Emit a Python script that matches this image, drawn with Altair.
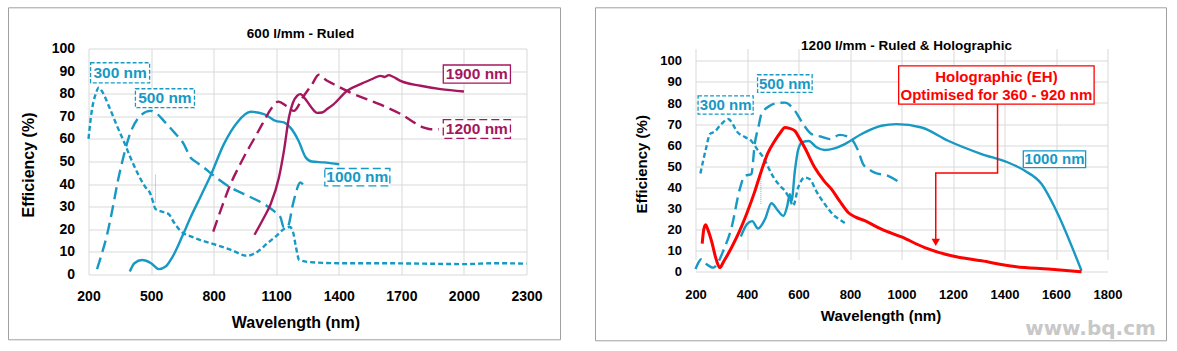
import altair as alt
import pandas as pd

CYAN = "#1799c4"
MAGENTA = "#a4175f"
RED = "#ff0000"
GRID = "#d9d9d9"
FONT = "Liberation Sans"

# ---------------- Left panel: 600 l/mm - Ruled ----------------
L300_wl = [200, 215, 235, 249, 265, 300, 340, 369, 400, 440, 470, 497, 510, 521, 545, 585, 610, 641, 700, 801, 880, 961, 1000, 1060, 1100, 1136, 1165, 1180, 1195, 1210, 1260, 1400, 1600, 1800, 2000, 2150, 2300]
L300_eff = [60, 72, 80, 82.7, 81, 74, 65, 59, 52, 44, 39, 35.6, 32, 29, 28, 26.7, 23, 19.3, 16.5, 13.4, 11, 8.3, 9.5, 14, 17, 20, 21, 19, 12, 6.5, 5.5, 5, 5, 4.8, 4.6, 5, 4.8]

L500_wl = [241, 260, 290, 313, 340, 362, 393, 441, 497, 530, 561, 610, 657, 689, 720, 753, 801, 881, 960, 1041, 1090, 1121, 1135, 1153, 1184, 1216, 1240]
L500_eff = [2.4, 8, 18, 28, 41, 50, 60.6, 69.5, 72.4, 71, 68, 63, 57.7, 51.8, 49.5, 47.3, 43.7, 38.5, 35, 31.2, 28, 25.2, 21, 20.8, 32.6, 40.7, 37.8]

L1000_wl = [398, 420, 457, 500, 537, 570, 601, 650, 689, 740, 785, 849, 913, 977, 1041, 1097, 1137, 1168, 1208, 1240, 1270, 1328, 1402]
L1000_eff = [1.3, 5, 6.4, 5, 2.4, 3.5, 7.5, 17, 25.2, 35, 43.7, 57.7, 67.3, 72, 71, 68, 67.3, 65, 59, 52, 50, 49.6, 48.8]

L1200_wl = [798, 840, 881, 920, 961, 1000, 1033, 1081, 1110, 1150, 1184, 1232, 1272, 1304, 1340, 1376, 1456, 1552, 1632, 1712, 1760, 1808, 1840, 1880]
L1200_eff = [19, 30, 40, 47.5, 54.7, 61, 66.5, 74, 76.5, 74.5, 72.4, 79, 84.2, 88.4, 86, 84.2, 80.5, 76.9, 73.9, 70.2, 67.3, 65, 64.3, 64.3]

L1900_wl = [996, 1040, 1073, 1113, 1137, 1161, 1180, 1200, 1216, 1240, 1268, 1296, 1320, 1344, 1376, 1440, 1504, 1560, 1600, 1620, 1640, 1660, 1696, 1792, 1888, 2000]
L1900_eff = [17.6, 25, 31.1, 42.9, 54.7, 69.5, 76, 79, 79.8, 77.6, 74, 71.5, 71.7, 73.2, 75.4, 81.3, 84.2, 86.5, 87.9, 87.4, 88.2, 87.5, 85.7, 83.5, 82, 81]

L_xticks = [200, 500, 800, 1100, 1400, 1700, 2000, 2300]
L_yticks = [0, 10, 20, 30, 40, 50, 60, 70, 80, 90, 100]

# label boxes: text, wl-left, wl-right, eff-bottom, eff-top, color, dash
L_labels = [
    ("300 nm", 210, 493, 84.8, 93.7, CYAN, [4, 2]),
    ("500 nm", 425, 708, 73.8, 82.2, CYAN, [4, 2]),
    ("1000 nm", 1333, 1645, 39.2, 46.9, CYAN, [8, 4]),
    ("1200 nm", 1901, 2223, 60.2, 68.5, MAGENTA, [8, 4]),
    ("1900 nm", 1901, 2223, 84.7, 92.7, MAGENTA, None),
]

# ---------------- Right panel: 1200 l/mm ----------------
R300_wl = [219, 240, 256, 275, 300, 327, 345, 359, 390, 417, 440, 463, 502, 530, 547, 566, 579, 599, 624, 644, 670, 702, 735, 767, 786]
R300_eff = [46.6, 58, 65.3, 66.5, 70, 72.4, 70, 66.8, 64, 62, 58, 54.2, 45, 40.5, 38.4, 34.5, 31.3, 40, 44.7, 43.9, 38, 32.1, 27, 24.2, 22.6]

R500_wl = [200, 212, 223, 243, 269, 290, 308, 340, 372, 391, 417, 430, 445, 456, 489, 520, 547, 586, 618, 650, 689, 722, 760, 799, 832, 851, 875, 896, 948, 993]
R500_eff = [1.3, 4.5, 6, 3.6, 2, 5, 10, 21, 39.2, 45.5, 46.3, 60.5, 69, 74.7, 78.7, 80, 80.2, 76.3, 70, 65.3, 64, 62.9, 64.9, 63.6, 57.3, 51, 48.5, 47, 45.5, 42.3]

R1000_wl = [376, 400, 420, 443, 470, 495, 520, 541, 556, 566, 573, 586, 599, 615, 640, 670, 702, 740, 780, 845, 922, 980, 1078, 1181, 1311, 1414, 1479, 1544, 1595, 1699]
R1000_eff = [16.7, 22.6, 24, 20.5, 25, 32.5, 29, 26.5, 31, 36.8, 33.6, 47.9, 58, 61.5, 62, 59, 57.7, 58.5, 60.5, 65.3, 69.2, 70, 68.4, 62.1, 55.8, 51.8, 47.9, 41.6, 30.5, 0.5]

RH_wl = [226, 232, 239, 248, 262, 280, 294, 310, 340, 370, 398, 430, 456, 480, 508, 530, 547, 565, 586, 605, 624, 663, 700, 728, 760, 793, 820, 857, 922, 1000, 1090, 1194, 1311, 1440, 1570, 1699]
RH_eff = [13.4, 20, 22.3, 20, 14.7, 6, 2, 5, 11.5, 19, 27.3, 38, 47.9, 56, 62.1, 66, 68.4, 68, 66.8, 63, 58.9, 49.4, 43, 39.2, 33.5, 28.1, 26, 24.2, 20.2, 16.5, 11.5, 7.6, 5.2, 2.5, 1.3, 0]

R_xticks = [200, 400, 600, 800, 1000, 1200, 1400, 1600, 1800]
R_yticks = [0, 10, 20, 30, 40, 50, 60, 70, 80, 90, 100]

R_labels = [
    ("300 nm", 210, 424, 74.7, 83.4, CYAN, [4, 2]),
    ("500 nm", 441, 653, 85.0, 93.4, CYAN, [4, 2]),
    ("1000 nm", 1473, 1715, 49.4, 57.3, CYAN, None),
]
holo_box = (989, 1748, 79.5, 97.6)
holo_text = ["Holographic (EH)", "Optimised for 360 - 920 nm"]
holo_text_eff = [92.4, 83.9]
leader_wl = [1373, 1373, 1133, 1133]
leader_eff = [79.5, 46.8, 46.8, 15.0]
arrow_tip = (1133, 14.0)


def axes(xticks, yticks, lab_fs, title_fs, xtx, xty, ytx, yty, xlp):
    common = dict(grid=True, gridColor=GRID, gridWidth=1, domain=False, ticks=False,
                  labelFont=FONT, labelFontWeight="bold", labelColor="black",
                  labelFontSize=lab_fs, titleFont=FONT, titleFontWeight="bold",
                  titleColor="black", titleFontSize=title_fs, format="d")
    xa = alt.Axis(values=xticks, labelPadding=xlp, title="Wavelength (nm)",
                  titleX=xtx, titleY=xty, titleAlign="center", titleBaseline="middle",
                  labelFlush=False, labelOverlap=False, **common)
    ya = alt.Axis(values=yticks, labelPadding=14, title="Efficiency (%)",
                  titleX=ytx, titleY=yty, titleAngle=270, titleAlign="center",
                  titleBaseline="middle", **common)
    return xa, ya


def build_panel(series, labels, xdom, xticks, yticks, w, h, yrange, title, title_pos,
                lab_fs, title_fs, xtx, xty, ytx, yty, xlp, lab_text_fs,
                border, thin_rule, extra=None):
    xs = alt.Scale(domain=xdom, nice=False, zero=False)
    ys = alt.Scale(domain=[0, 100], nice=False, range=yrange)
    xa, ya = axes(xticks, yticks, lab_fs, title_fs, xtx, xty, ytx, yty, xlp)

    def X(f="wl"):
        return alt.X(f"{f}:Q", scale=xs, axis=xa, title="Wavelength (nm)")

    def Y(f="eff"):
        return alt.Y(f"{f}:Q", scale=ys, axis=ya, title="Efficiency (%)")

    layers = []
    # outer border of the panel
    bx1, bx2, by1, by2 = border
    layers.append(
        alt.Chart(alt.Data(values=[{"a": 1}])).mark_rect(
            fillOpacity=0, stroke="#a0a0a0", strokeWidth=1
        ).encode(x=alt.value(bx1), x2=alt.value(bx2), y=alt.value(by1), y2=alt.value(by2))
    )
    # panel title
    layers.append(
        alt.Chart(alt.Data(values=[{"t": title}])).mark_text(
            font=FONT, fontSize=13.5, fontWeight="bold", color="black", align="center", baseline="middle"
        ).encode(x=alt.value(title_pos[0]), y=alt.value(title_pos[1]), text="t:N")
    )
    # layer carrying the axes
    layers.append(
        alt.Chart(pd.DataFrame({"wl": [xdom[0]], "eff": [0]})).mark_point(opacity=0).encode(x=X(), y=Y())
    )
    # thin dotted rule
    rw, re1, re2 = thin_rule
    layers.append(
        alt.Chart(pd.DataFrame({"wl": [rw], "eff": [re1], "eff2": [re2]})).mark_rule(
            color=CYAN, strokeWidth=0.7, strokeDash=[1, 1]
        ).encode(x=X(), y=Y(), y2="eff2:Q")
    )
    for wl, eff, color, dash, width in series:
        df = pd.DataFrame({"wl": wl, "eff": eff, "i": list(range(len(wl)))})
        kw = dict(color=color, strokeWidth=width, interpolate="monotone", strokeCap="butt")
        if dash:
            kw["strokeDash"] = dash
        layers.append(alt.Chart(df).mark_line(**kw).encode(x=X(), y=Y(), order="i:Q"))
    for text, w1, w2, e1, e2, color, dash in labels:
        df = pd.DataFrame({"wl": [w1], "wl2": [w2], "eff": [e1], "eff2": [e2],
                           "cx": [(w1 + w2) / 2], "cy": [(e1 + e2) / 2], "t": [text]})
        kw = dict(fill="white", stroke=color, strokeWidth=1.3)
        if dash:
            kw["strokeDash"] = dash
        layers.append(alt.Chart(df).mark_rect(**kw).encode(x=X(), x2="wl2:Q", y=Y(), y2="eff2:Q"))
        layers.append(alt.Chart(df).mark_text(
            color=color, font=FONT, fontWeight="bold", fontSize=lab_text_fs, baseline="middle", align="center"
        ).encode(x=X("cx"), y=Y("cy"), text="t:N"))
    if extra:
        layers.extend(extra(X, Y))
    return alt.layer(*layers).properties(width=w, height=h)


left = build_panel(
    series=[
        (L300_wl, L300_eff, CYAN, [5, 3], 2.4),
        (L500_wl, L500_eff, CYAN, [12, 6], 2.4),
        (L1000_wl, L1000_eff, CYAN, None, 2.4),
        (L1200_wl, L1200_eff, MAGENTA, [12, 6], 2.4),
        (L1900_wl, L1900_eff, MAGENTA, None, 2.4),
    ],
    labels=L_labels, xdom=[200, 2300], xticks=L_xticks, yticks=L_yticks,
    w=438, h=226, yrange=[226, 0], title="600 l/mm - Ruled", title_pos=(212, -14.7),
    lab_fs=14, title_fs=16, xtx=207, xty=48, ytx=-60, yty=116, xlp=15, lab_text_fs=15.5,
    border=(-80, 472, -40.7, 291.3), thin_rule=(521, 31.9, 44.4),
)


def holo_extra(X, Y):
    out = []
    w1, w2, e1, e2 = holo_box
    bdf = pd.DataFrame({"wl": [w1], "wl2": [w2], "eff": [e1], "eff2": [e2]})
    out.append(alt.Chart(bdf).mark_rect(fill="white", stroke=RED, strokeWidth=1.3).encode(
        x=X(), x2="wl2:Q", y=Y(), y2="eff2:Q"))
    tdf = pd.DataFrame({"wl": [(w1 + w2) / 2] * 2, "eff": holo_text_eff, "t": holo_text})
    out.append(alt.Chart(tdf).mark_text(color=RED, font=FONT, fontWeight="bold", fontSize=15,
                                        baseline="middle", align="center").encode(
        x=X(), y=Y(), text="t:N"))
    ldf = pd.DataFrame({"wl": leader_wl, "eff": leader_eff, "i": list(range(len(leader_wl)))})
    out.append(alt.Chart(ldf).mark_line(color=RED, strokeWidth=1.5, interpolate="linear").encode(
        x=X(), y=Y(), order="i:Q"))
    adf = pd.DataFrame({"wl": [arrow_tip[0]], "eff": [arrow_tip[1]]})
    out.append(alt.Chart(adf).mark_point(shape="triangle-down", filled=True, color=RED, size=70, opacity=1).encode(
        x=X(), y=Y()))
    out.append(alt.Chart(alt.Data(values=[{"t": "www.bq.cm"}])).mark_text(
        font="DejaVu Sans", fontWeight="bold", fontSize=20, color="#c8c8c8", align="center", baseline="middle"
    ).encode(x=alt.value(395), y=alt.value(280.3), text="t:N"))
    return out


right = build_panel(
    series=[
        (R300_wl, R300_eff, CYAN, [5, 3], 2.4),
        (R500_wl, R500_eff, CYAN, [12, 6], 2.4),
        (R1000_wl, R1000_eff, CYAN, None, 2.4),
        (RH_wl, RH_eff, RED, None, 3),
    ],
    labels=R_labels, xdom=[200, 1800], xticks=R_xticks, yticks=R_yticks,
    w=412, h=223.3, yrange=[223.3, 12.3], title="1200 l/mm - Ruled & Holographic", title_pos=(211, -2.7),
    lab_fs=13, title_fs=15, xtx=185, xty=44, ytx=-54, yty=115.3, xlp=17, lab_text_fs=15,
    border=(-100, 471, -40.7, 292.3), thin_rule=(454, 32.2, 45.5), extra=holo_extra,
)

chart = alt.hconcat(left, right, spacing=33).properties(
    padding={"left": 7.5, "top": 6.5, "right": 0, "bottom": 0},
    background="white",
).configure_view(strokeWidth=0)

chart.save("out.html", embed_options={"renderer": "svg", "actions": False})
